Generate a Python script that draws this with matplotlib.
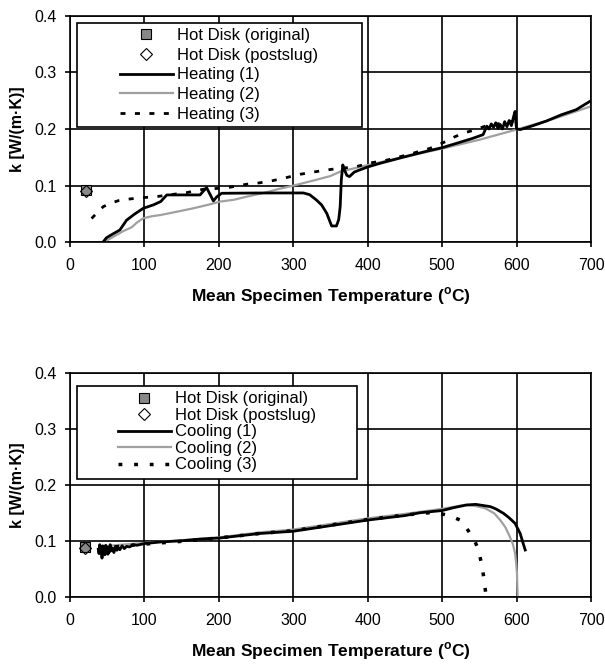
import matplotlib
matplotlib.use('Agg')
import matplotlib.pyplot as plt
from matplotlib.patches import Rectangle

plt.rcParams['font.family'] = ['Liberation Sans', 'DejaVu Sans']
plt.rcParams['mathtext.fontset'] = 'custom'
plt.rcParams['mathtext.rm'] = 'Liberation Sans'
plt.rcParams['mathtext.bf'] = 'Liberation Sans:bold'

# Hot Disk points (temperature, k)
hd_orig_heat = ([22], [0.093])
hd_post_heat = ([22], [0.090])
hd_orig_cool = ([20], [0.089])
hd_post_cool = ([20], [0.088])

# Heating runs
h1_temp = [40.3, 49, 58, 67, 76, 87, 98.5, 112, 122, 130, 150, 174.7, 179, 183.5, 188, 192.6, 197,
           203.8, 250, 313.6, 322, 331, 338, 345, 351.5, 358, 361, 363, 364.5, 366.5, 369, 372,
           375.5, 382, 389.8, 400, 416.7, 450, 480, 500, 520, 540, 555, 560, 563, 566, 569, 572,
           575, 578, 581, 584, 587, 590, 593, 596, 598, 599, 600, 605, 620, 640, 660, 680, 700, 708]
h1_k = [-0.0065, 0.008, 0.015, 0.0217, 0.039, 0.05, 0.060, 0.066, 0.072, 0.0836, 0.0836, 0.0836,
        0.09, 0.0965, 0.085, 0.073, 0.08, 0.0865, 0.087, 0.0871, 0.084, 0.0747, 0.066, 0.051,
        0.0288, 0.0288, 0.04, 0.063, 0.11, 0.1366, 0.127, 0.118, 0.116, 0.124, 0.128, 0.133,
        0.1395, 0.151, 0.161, 0.167, 0.175, 0.183, 0.19, 0.205, 0.2, 0.209, 0.203, 0.211, 0.201,
        0.208, 0.2, 0.213, 0.204, 0.215, 0.206, 0.222, 0.231, 0.212, 0.2, 0.199, 0.205, 0.214,
        0.225, 0.234, 0.25, 0.254]

h2_temp = [43.9, 52, 62.7, 72, 83, 90, 98.5, 110, 121, 140, 165.7, 185, 201.6, 220, 237.5, 260,
           280, 300, 330, 350, 363, 380, 401, 450, 502, 550, 600, 650, 700, 708]
h2_k = [0.0, 0.005, 0.013, 0.02, 0.0265, 0.035, 0.0424, 0.046, 0.048, 0.053, 0.06, 0.066, 0.0718,
        0.075, 0.0806, 0.087, 0.094, 0.1, 0.11, 0.117, 0.1248, 0.13, 0.1366, 0.151, 0.166, 0.181,
        0.199, 0.218, 0.24, 0.245]

h3_temp = [29, 37, 44.8, 55, 65, 77, 89.3, 100, 116, 135, 156.8, 179, 197, 215, 237.5, 255, 273,
           290, 309, 327, 345, 365, 381, 406, 425.6, 455, 484, 505, 517.5, 531, 543, 562, 580, 600]
h3_k = [0.042, 0.053, 0.063, 0.069, 0.0735, 0.076, 0.0777, 0.079, 0.0806, 0.084, 0.0877, 0.0936,
        0.095, 0.0972, 0.1025, 0.105, 0.109, 0.114, 0.12, 0.124, 0.1277, 0.131, 0.1325, 0.1406,
        0.145, 0.155, 0.166, 0.178, 0.1866, 0.1937, 0.198, 0.207, 0.21, 0.215]

# Cooling runs
c1_temp = [38, 39, 40, 41, 42, 43, 44, 45, 46, 47, 48, 49, 50, 51, 52, 53, 54, 55, 57, 59, 61, 63,
           65, 67, 70, 73, 76, 80, 85, 90, 100, 121, 150, 175, 201.6, 255, 300, 350, 400, 450,
           470, 500, 515, 533, 545, 555, 564.5, 572, 582.4, 590, 598, 604.8, 608, 611.6]
c1_k = [0.086, 0.078, 0.094, 0.08, 0.09, 0.07, 0.092, 0.079, 0.088, 0.076, 0.093, 0.082, 0.09,
        0.077, 0.089, 0.081, 0.094, 0.083, 0.088, 0.08, 0.091, 0.084, 0.089, 0.085, 0.092, 0.087,
        0.091, 0.09, 0.094, 0.093, 0.096, 0.0988, 0.101, 0.104, 0.106, 0.114, 0.118, 0.128, 0.138,
        0.146, 0.151, 0.155, 0.16, 0.165, 0.166, 0.164, 0.162, 0.158, 0.15, 0.142, 0.132, 0.114,
        0.1, 0.0845]

c2_temp = [40, 60, 100, 150, 200, 255, 300, 350, 400, 450, 500, 530, 545, 558, 570, 578, 585, 591,
           595, 598, 599.5, 600.5, 601, 601.4]
c2_k = [0.09, 0.093, 0.097, 0.102, 0.107, 0.116, 0.121, 0.131, 0.141, 0.149, 0.158, 0.165, 0.163,
        0.159, 0.15, 0.138, 0.125, 0.108, 0.095, 0.0786, 0.06, 0.043, 0.02, 0.0]

c3_temp = [40, 60, 100, 150, 200, 255, 300, 350, 400, 450, 490, 506, 515, 524, 531, 537.6, 544,
           548.8, 553.3, 556.4, 559]
c3_k = [0.087, 0.09, 0.095, 0.1, 0.106, 0.114, 0.119, 0.129, 0.139, 0.147, 0.152, 0.147, 0.143,
        0.138, 0.127, 0.114, 0.1, 0.0845, 0.0577, 0.031, 0.002]

heat_labels = ['Hot Disk (original)', 'Hot Disk (postslug)', 'Heating (1)', 'Heating (2)', 'Heating (3)']
cool_labels = ['Hot Disk (original)', 'Hot Disk (postslug)', 'Cooling (1)', 'Cooling (2)', 'Cooling (3)']

GRAY = '#a0a0a0'

fig = plt.figure(figsize=(6.05, 6.68), dpi=100)
ax1 = fig.add_axes([0.1157, 0.6373, 0.8612, 0.3392])
ax2 = fig.add_axes([0.1157, 0.1058, 0.8612, 0.3353])


def setup(ax):
    ax.set_xlim(0, 700)
    ax.set_ylim(0, 0.4)
    ax.set_xticks(range(0, 701, 100))
    ax.set_yticks([0.0, 0.1, 0.2, 0.3, 0.4])
    ax.set_yticklabels(['%.1f' % v for v in [0.0, 0.1, 0.2, 0.3, 0.4]])
    ax.grid(True, color='black', linewidth=1.2)
    ax.set_axisbelow(True)
    for s in ax.spines.values():
        s.set_linewidth(1.2)
    ax.tick_params(axis='both', direction='out', length=3.5, width=1.2, labelsize=11.5)
    ax.tick_params(axis='x', pad=8)
    ax.tick_params(axis='y', pad=6)
    ax.set_xlabel('Mean Specimen Temperature ($^{\\mathbf{o}}$C)', fontsize=12.5,
                  fontweight='bold', labelpad=9)
    ax.set_ylabel('k [W/(m\u00b7K)]', fontsize=11.5, fontweight='bold', labelpad=7)


def draw(ax, orig, post, r1, r2, r3, style3, labels, anchor, spacing, box):
    l1, = ax.plot(r1[0], r1[1], color='black', lw=2.0, zorder=3)
    l2, = ax.plot(r2[0], r2[1], color=GRAY, lw=1.6, zorder=2)
    l3, = ax.plot(r3[0], r3[1], color='black', lw=style3[0], dashes=style3[1], zorder=3)
    m1, = ax.plot(orig[0], orig[1], ls='none', marker='s', ms=7, mfc='#888888', mec='black',
                  mew=0.8, zorder=4)
    m2, = ax.plot(post[0], post[1], ls='none', marker='D', ms=6, mfc='none', mec='black',
                  mew=0.8, zorder=4)
    ax.add_patch(Rectangle((box[0], box[1]), box[2], box[3], transform=ax.transAxes,
                           facecolor='white', edgecolor='black', lw=1.2, zorder=5))
    leg = ax.legend([m1, m2, l1, l2, l3], labels, loc='upper left', bbox_to_anchor=anchor,
                    frameon=False, borderpad=0, borderaxespad=0, handlelength=3.16,
                    handletextpad=0.28, labelspacing=spacing, fontsize=12)
    leg.set_zorder(6)


setup(ax1)
setup(ax2)
draw(ax1, hd_orig_heat, hd_post_heat, (h1_temp, h1_k), (h2_temp, h2_k), (h3_temp, h3_k),
     (2.0, (1.8, 3.4)), heat_labels, (0.096, 0.945), 0.28, (0.014, 0.5075, 0.546, 0.459))
draw(ax2, hd_orig_cool, hd_post_cool, (c1_temp, c1_k), (c2_temp, c2_k), (c3_temp, c3_k),
     (2.5, (1.1, 3.4)), cool_labels, (0.092, 0.919), 0.09, (0.0134, 0.527, 0.537, 0.416))

fig.savefig('out.png', dpi=100)
